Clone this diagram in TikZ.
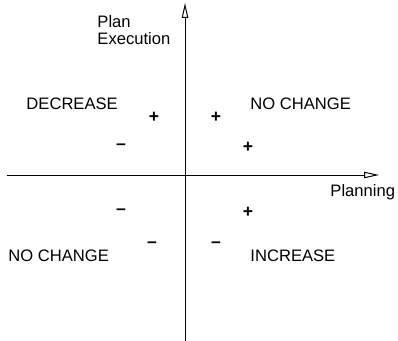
\documentclass[tikz,border=0pt]{standalone}
\usepackage{fontspec}
\setmainfont{Liberation Sans}
\usetikzlibrary{arrows.meta}

\begin{document}
\begin{tikzpicture}[line width=0.7pt,
  every node/.style={font=\fontsize{11.8}{12.3}\selectfont, inner sep=0pt},
  axis/.style={-{Triangle[open, length=10.5pt, width=4.5pt]}},
  sign/.style={font=\fontsize{12.5}{13}\selectfont\bfseries}]
\useasboundingbox (-4.625,-4.15) rectangle (5.325,4.375);
% axes
\coordinate (xleft) at (-4.45,0);
\coordinate (xright) at (4.85,0);
\coordinate (ybot) at (0,-4.15);
\coordinate (ytop) at (0,4.3);
\draw[axis] (xleft) -- (xright);
\draw[axis] (ybot) -- (ytop);
\node[anchor=base west, align=left] (yaxislabel) at (-2.2,3.25) {Plan\\Execution};
\node[anchor=base west] (xaxislabel) at (3.625,-0.55) {Planning};
% quadrant labels
\node[anchor=base west] (decrease) at (-3.975,1.625) {DECREASE};
\node[anchor=base west] (nochangeup) at (1.625,1.625) {NO CHANGE};
\node[anchor=base west] (nochangedown) at (-4.425,-2.175) {NO CHANGE};
\node[anchor=base west] (increase) at (1.625,-2.175) {INCREASE};
% signs
\node[sign] (s1) at (-0.775,1.45) {+};
\node[sign] (s2) at (0.775,1.45) {+};
\node[sign] (s3) at (-1.6,0.7) {--};
\node[sign] (s4) at (1.575,0.7) {+};
\node[sign] (s5) at (-1.6,-0.925) {--};
\node[sign] (s6) at (1.575,-0.925) {+};
\node[sign] (s7) at (-0.825,-1.75) {--};
\node[sign] (s8) at (0.775,-1.75) {--};
\end{tikzpicture}
\end{document}
